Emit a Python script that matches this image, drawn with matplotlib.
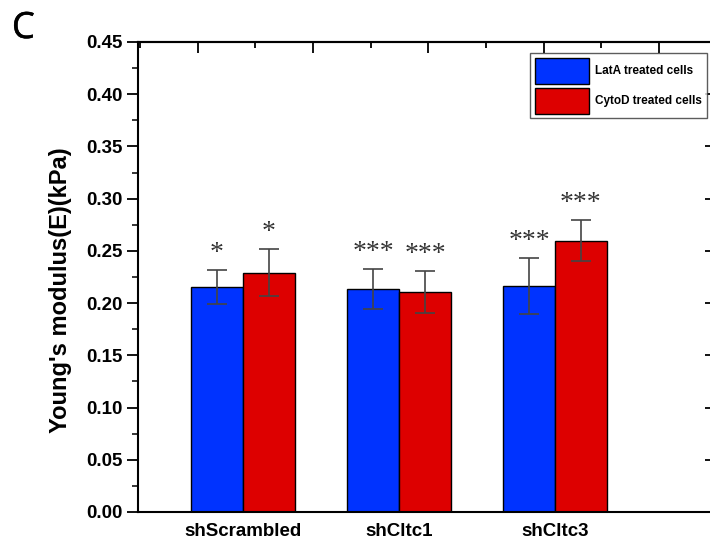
import matplotlib
matplotlib.use("Agg")
import matplotlib.pyplot as plt
import matplotlib.patheffects as pe
import numpy as np
from matplotlib.ticker import MultipleLocator

categories = ["shScrambled", "shCltc1", "shCltc3"]
series_names = ["LatA treated cells", "CytoD treated cells"]
lata_mean = [0.2155, 0.2135, 0.2165]
lata_err = [0.0165, 0.019, 0.0267]
cytod_mean = [0.229, 0.2107, 0.2596]
cytod_err = [0.0225, 0.020, 0.0197]
lata_sig = ["*", "***", "***"]
cytod_sig = ["*", "***", "***"]
y_ticks = [0.00, 0.05, 0.10, 0.15, 0.20, 0.25, 0.30, 0.35, 0.40, 0.45]

plt.rcParams['font.family'] = ['Liberation Sans', 'DejaVu Sans']

fig = plt.figure(figsize=(7.1, 5.46), dpi=100)
ax = fig.add_axes([138/710, 1-512/546, (713-138)/710, (512-42)/546])

x = np.arange(len(categories))
w = 0.333
blue = "#0033ff"
red = "#dd0000"
ekw = dict(ecolor="#444444", elinewidth=1.2, capsize=7, capthick=1.2)
ax.bar(x - w/2, lata_mean, w, color=blue, edgecolor="black", linewidth=1.0,
       yerr=lata_err, error_kw=ekw, label=series_names[0], zorder=2)
ax.bar(x + w/2, cytod_mean, w, color=red, edgecolor="black", linewidth=1.0,
       yerr=cytod_err, error_kw=ekw, label=series_names[1], zorder=2)

for xs, means, errs, sigs in [(x - w/2, lata_mean, lata_err, lata_sig),
                              (x + w/2, cytod_mean, cytod_err, cytod_sig)]:
    for xi, m, e, s in zip(xs, means, errs, sigs):
        ax.annotate(s, (xi, m + e), xytext=(0, 3), textcoords="offset points",
                    ha="center", va="bottom", fontsize=20, color="#333333",
                    family="Liberation Serif")

ax.set_xlim(-0.673, 3.013)
ax.set_ylim(0, 0.45)
ax.set_yticks(y_ticks)
ax.set_yticklabels([f"{v:.2f}" for v in y_ticks], fontsize=13.5, fontweight="bold")
ax.yaxis.set_minor_locator(MultipleLocator(0.025))
ax.set_xticks(x)
ax.set_xticklabels(categories, fontsize=13.5, fontweight="bold")
ax.tick_params(axis="x", length=0, pad=8)
ax.tick_params(axis="y", which="major", direction="out", length=8, width=1.3, pad=3)
ax.tick_params(axis="y", which="minor", direction="out", length=4, width=1.1)
ax.set_ylabel("Young's modulus(E)(kPa)", fontsize=17, fontweight="bold")
ax.yaxis.set_label_coords(-0.115, 0.472)
for sp in ax.spines.values():
    sp.set_linewidth(1.5)

# mirrored right axis (ticks inward)
sec = ax.secondary_yaxis("right")
sec.set_yticks(y_ticks)
sec.tick_params(direction="in", length=6, width=1.3, labelright=False)
sec.spines["right"].set_linewidth(1.5)

# mirrored top axis with its own evenly spaced inward ticks
top_off = 0.2904
top_scale = 156 / 115.3
topax = ax.secondary_xaxis("top", functions=(lambda v: (v + top_off) * top_scale,
                                             lambda u: u / top_scale - top_off))
topax.xaxis.set_major_locator(MultipleLocator(1))
topax.xaxis.set_minor_locator(MultipleLocator(0.5))
topax.tick_params(which="major", direction="in", length=8, width=1.3, labeltop=False)
topax.tick_params(which="minor", direction="in", length=4, width=1.3)
topax.spines["top"].set_linewidth(1.5)

leg = ax.legend(loc="upper left", bbox_to_anchor=(530/710, 1-53/546),
                bbox_transform=fig.transFigure, frameon=True, fancybox=False,
                edgecolor="#333333", prop={"weight": "bold", "size": 8.5},
                handlelength=4.6, handleheight=3.0, borderpad=0.4, labelspacing=0.35,
                handletextpad=0.5, borderaxespad=0)
leg.get_frame().set_linewidth(1.0)

fig.text(12/710, 1-38/546, "C", fontsize=26, family="Open Sans", va="baseline", ha="left",
         path_effects=[pe.withStroke(linewidth=0.4, foreground="black")])

fig.savefig("out.png", dpi=100)
